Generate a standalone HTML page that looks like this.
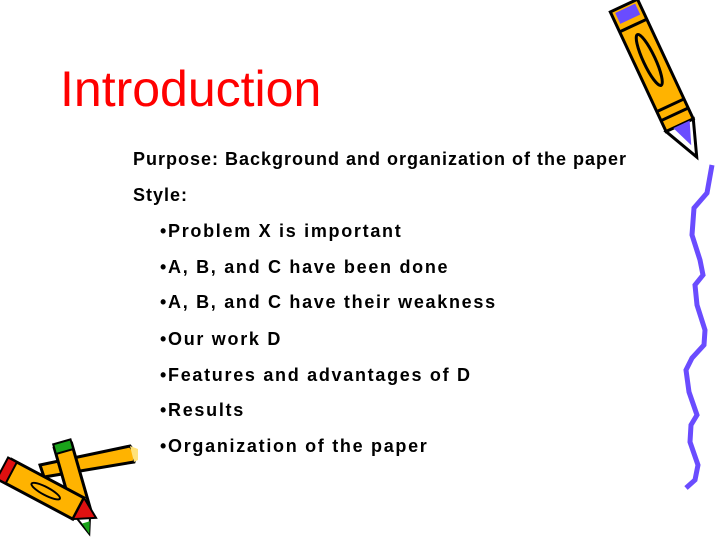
<!DOCTYPE html>
<html><head><meta charset="utf-8"><style>
body{margin:0;width:718px;height:539px;background:#fff;overflow:hidden;position:relative;font-family:"Liberation Sans",sans-serif}
.t{position:absolute;left:60px;top:60px;font-size:50px;color:#f00}
.l{position:absolute;font-size:18px;font-weight:bold;color:#000;white-space:nowrap;letter-spacing:1px}
.b{letter-spacing:1.7px}
svg{position:absolute;left:0;top:0}
</style></head><body>
<svg width="718" height="539">
<g transform="translate(623,6) rotate(-25)">
<rect x="-14" y="0" width="30" height="132" fill="#ffb300" stroke="#000" stroke-width="3"/>
<rect x="-10" y="3" width="22" height="12" fill="#6a4cff"/>
<ellipse cx="1" cy="60" rx="6" ry="28" fill="none" stroke="#000" stroke-width="3"/>
<path d="M-14 22 L16 22 M-14 110 L16 110 M-14 120 L16 120" stroke="#000" stroke-width="3"/>
<polygon points="-14,132 16,132 3,168" fill="#fff" stroke="#000" stroke-width="3"/>
<polygon points="-6,132 12,132 3,155" fill="#6a4cff"/>
</g>
<polyline fill="none" stroke="#6a4cff" stroke-width="5" points="712,165 707,193 694,208 692,235 700,260 703,275 695,285 697,305 705,330 704,345 692,358 686,370 689,392 697,415 691,425 690,442 698,465 695,480 686,488"/>
<g>
<polygon points="40,465 130,446 136,454 134,462 44,477" fill="#ffb300" stroke="#000" stroke-width="3"/>
<polygon points="130,446 138,449 138,460 134,462" fill="#ffe27a"/>
<g transform="translate(62,446) rotate(-16)">
<rect x="-8" y="0" width="18" height="68" fill="#ffb300" stroke="#000" stroke-width="3"/>
<rect x="-8" y="-4" width="18" height="10" fill="#1aa31a" stroke="#000" stroke-width="2"/>
<polygon points="-8,68 10,68 2,92" fill="#fff" stroke="#000" stroke-width="2"/>
<polygon points="-2,80 6,80 2,92" fill="#1aa31a"/>
</g>
<g transform="translate(6,470) rotate(-62)">
<rect x="-12" y="0" width="24" height="82" fill="#ffb300" stroke="#000" stroke-width="3"/>
<rect x="-12" y="-4" width="24" height="10" fill="#e01010" stroke="#000" stroke-width="2"/>
<ellipse cx="0" cy="45" rx="4" ry="16" fill="none" stroke="#000" stroke-width="2"/>
<polygon points="-12,82 12,82 0,102" fill="#e01010" stroke="#000" stroke-width="2"/>
</g>
</g>
</svg>
<div class="t">Introduction</div>
<div class="l" style="left:133px;top:149px">Purpose: Background and organization of the paper</div>
<div class="l" style="left:133px;top:185px">Style:</div>
<div class="l b" style="left:160px;top:221px">•Problem X is important</div>
<div class="l b" style="left:160px;top:257px">•A, B, and C have been done</div>
<div class="l b" style="left:160px;top:292px">•A, B, and C have their weakness</div>
<div class="l b" style="left:160px;top:329px">•Our work D</div>
<div class="l b" style="left:160px;top:365px">•Features and advantages of D</div>
<div class="l b" style="left:160px;top:400px">•Results</div>
<div class="l b" style="left:160px;top:436px">•Organization of the paper</div>
</body></html>
